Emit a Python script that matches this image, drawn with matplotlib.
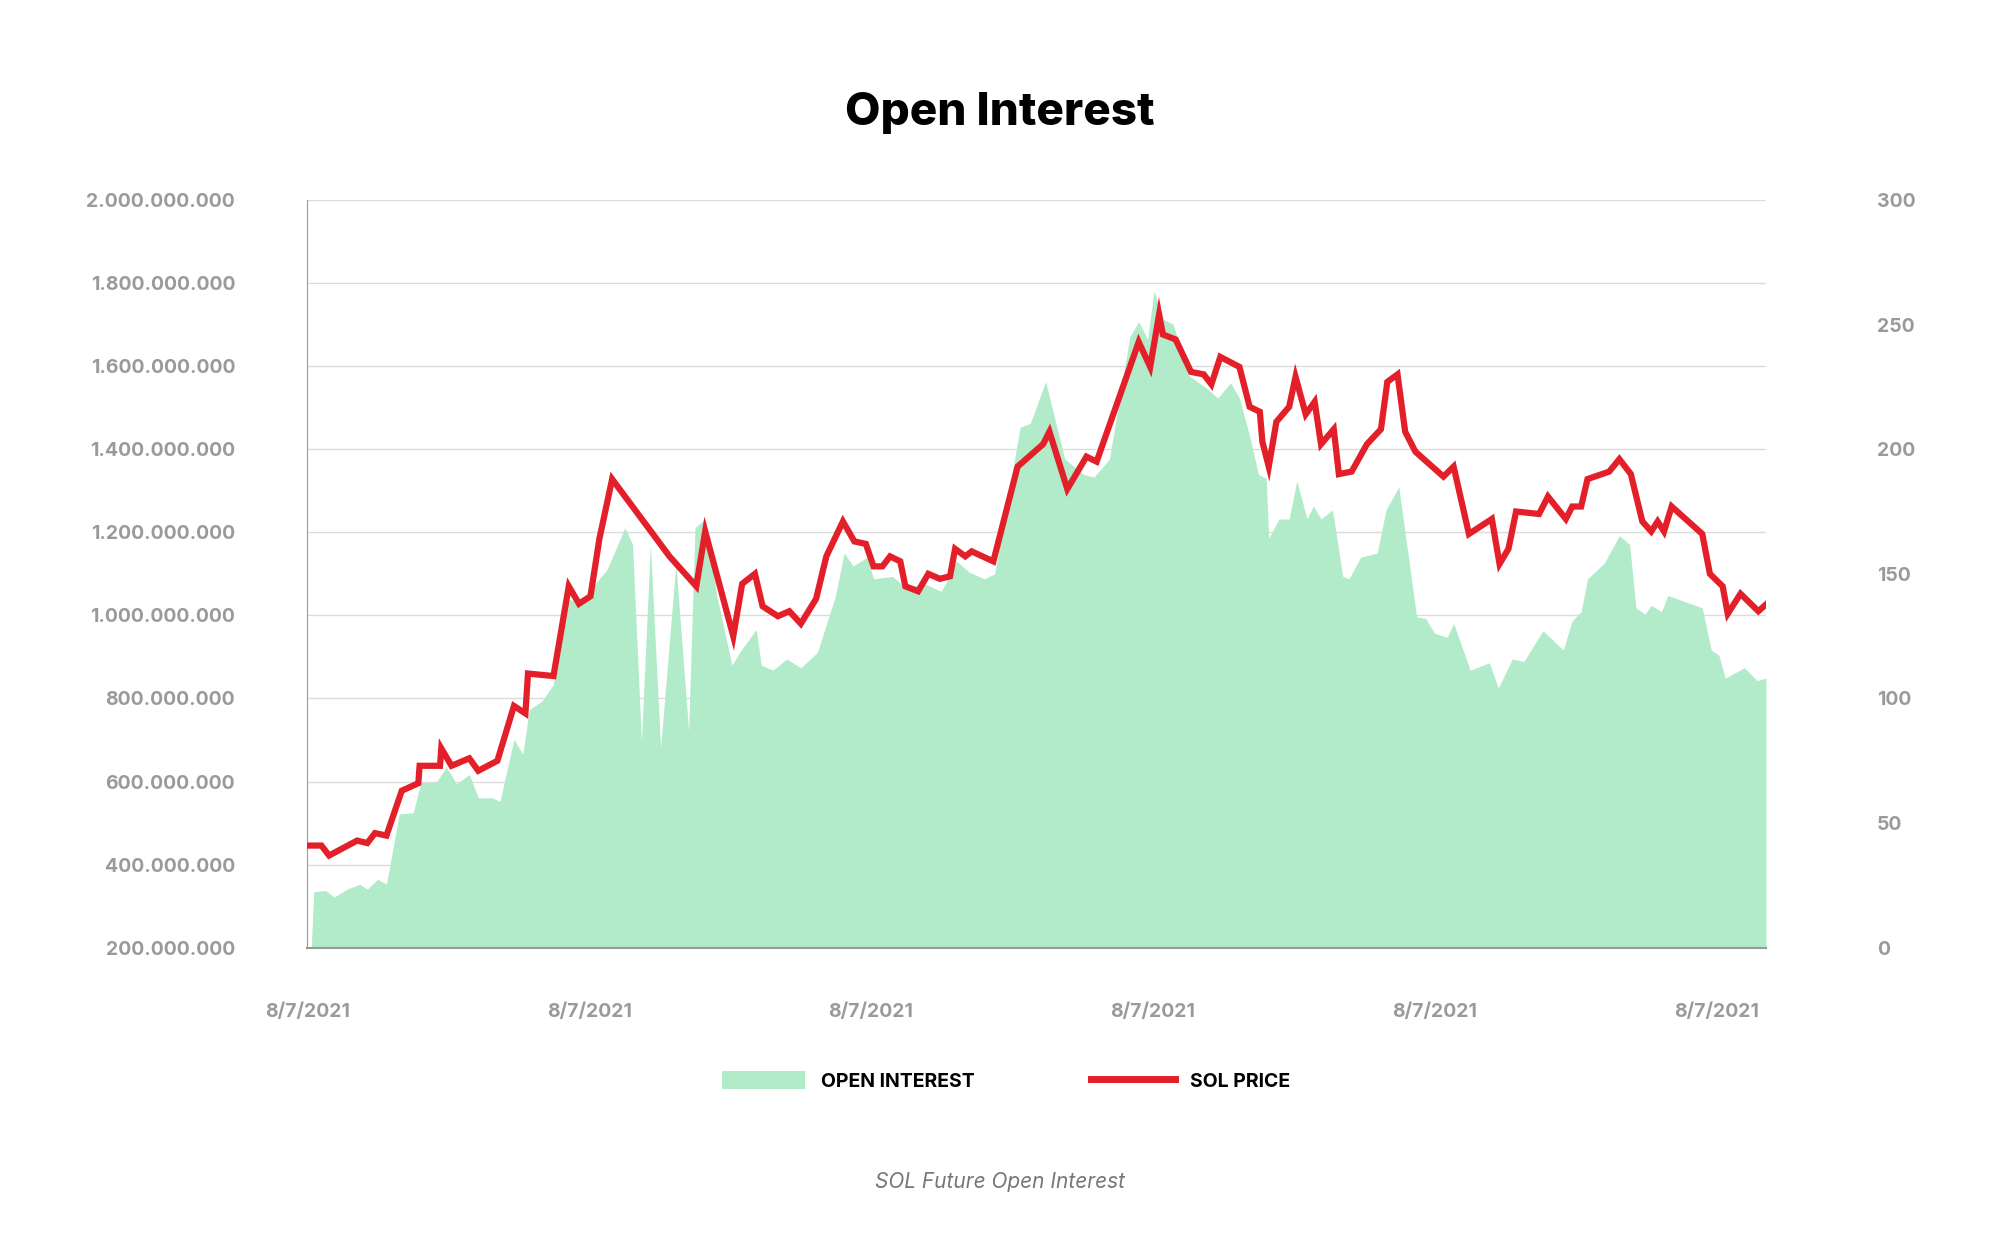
import matplotlib
matplotlib.use("Agg")
import matplotlib.pyplot as plt
from matplotlib.ticker import FuncFormatter
from matplotlib.lines import Line2D
from matplotlib.patches import Patch

# x positions measured in days (tick every 40 days)
price_px = [241,252,258,280,288,294,303,315,328,329,345,346,354,368,375,390,403,412,414,434,446,454,463,470,480,525,546,553,575,582,592,598,610,619,628,640,648,661,670,679,685,692,698,706,710,720,728,737,745,749,757,762,779,798,818,823,837,852,860,893,902,909,912,922,934,944,950,957,972,980,988,990,995,1001,1011,1016,1024,1031,1036,1046,1050,1060,1072,1083,1088,1096,1102,1110,1132,1140,1152,1170,1176,1183,1189,1207,1214,1228,1233,1240,1245,1262,1270,1279,1288,1295,1300,1305,1311,1335,1341,1351,1355,1365,1379,1390]
price = [41,41,37,43,42,46,45,63,66,73,73,80,73,76,71,75,97,94,110,109,145,138,141,164,188,157,145,167,125,146,150,137,133,135,130,140,157,171,163,162,153,153,157,155,145,143,150,148,149,160,157,159,155,193,202,207,184,197,195,243,233,254,246,244,231,230,226,237,233,217,215,203,193,211,217,229,214,219,202,208,190,191,202,208,227,230,207,199,189,193,166,172,154,160,175,174,181,172,177,177,188,191,196,190,171,167,171,167,177,166,150,145,134,142,135,140]

oi_px = [244,246,255,262,272,282,288,296,303,313,324,330,342,350,358,368,375,386,392,403,410,415,425,434,444,455,465,476,490,496,503,510,518,530,540,545,553,562,574,580,593,597,606,617,628,641,655,662,669,680,685,700,710,725,738,742,750,760,772,780,800,808,820,835,850,858,870,886,893,900,905,912,920,932,947,955,965,972,980,987,993,995,1003,1011,1017,1025,1030,1036,1045,1053,1058,1067,1080,1087,1097,1111,1118,1125,1135,1140,1153,1168,1175,1186,1195,1210,1226,1233,1240,1245,1258,1270,1278,1283,1290,1295,1303,1308,1335,1342,1348,1353,1368,1378,1385]
oi_m = [200,335,338,322,341,353,341,365,353,522,525,598,598,635,595,617,561,561,552,702,666,773,794,834,1039,1033,1070,1110,1211,1171,696,1171,681,1125,721,1211,1232,1048,880,911,966,880,868,895,874,911,1045,1150,1119,1140,1088,1094,1067,1076,1058,1079,1131,1104,1088,1100,1453,1462,1563,1376,1339,1333,1376,1670,1707,1664,1781,1713,1701,1578,1545,1523,1560,1523,1431,1339,1330,1186,1232,1232,1324,1232,1263,1232,1254,1094,1088,1140,1150,1254,1309,996,993,957,947,981,868,886,825,895,889,963,917,987,1009,1088,1125,1192,1171,1018,1003,1024,1009,1048,1018,917,904,849,874,843,849]

tick_labels = ["8/7/2021"] * 6

def to_day(p):
    return (p - 241) / 221 * 40

price_x = [to_day(p) for p in price_px]
oi_x = [to_day(p) for p in oi_px]
oi = [v * 1e6 for v in oi_m]

GREEN = "#b1ebc9"
RED = "#e3202a"
GRAY = "#9a9a9a"

fig = plt.figure(figsize=(20, 12.57), dpi=100)
ax = fig.add_axes([0.1537, 0.246, 0.883 - 0.1537, 0.841 - 0.246])
ax2 = ax.twinx()

ax.fill_between(oi_x, 0, oi, color=GREEN, lw=0, zorder=2)
ax2.plot(price_x, price, color=RED, lw=4.5, zorder=3, solid_joinstyle="miter")

ax.set_xlim(0, to_day(1385))
ax.set_ylim(2e8, 2e9)
ax2.set_ylim(0, 300)
ax.set_xticks([0, 40, 80, 120, 160, 200])
ax.set_xticklabels(tick_labels)
ax.set_yticks([2e8 * i for i in range(1, 11)])
ax.yaxis.set_major_formatter(FuncFormatter(lambda v, p: f"{int(v):,}".replace(",", ".")))
ax2.set_yticks([0, 50, 100, 150, 200, 250, 300])

ax.grid(axis="y", color="#dcdcdc", lw=1, zorder=0)
ax.set_axisbelow(True)
for a in (ax, ax2):
    for s in ("top", "right"):
        a.spines[s].set_visible(False)
    a.spines["left"].set_visible(a is ax)
    a.spines["bottom"].set_visible(a is ax)
ax.spines["left"].set_color("#999999")
ax.spines["bottom"].set_color("#999999")
ax.spines["bottom"].set_linewidth(1.5)

fnt = dict(family="Inter", weight="bold", size=14, color=GRAY)
ax.tick_params(axis="y", length=0, pad=52)
ax.tick_params(axis="x", length=0, pad=40)
ax2.tick_params(axis="y", length=0, pad=80)
for lab in ax.get_yticklabels() + ax.get_xticklabels() + ax2.get_yticklabels():
    lab.set_fontfamily("Inter"); lab.set_fontweight("bold"); lab.set_fontsize(14); lab.set_color(GRAY)

fig.text(0.5, 0.91, "Open Interest", ha="center", va="center", family="Inter",
         weight="heavy", size=33, color="black")
fig.text(0.5, 0.06, "SOL Future Open Interest", ha="center", va="center",
         family="Inter", style="italic", size=15, color="#777777")

handles = [Patch(facecolor=GREEN, edgecolor="none"), Line2D([], [], color=RED, lw=5)]
fig.legend(handles, ["OPEN INTEREST", "SOL PRICE"], loc="center", bbox_to_anchor=(0.503, 0.14),
           ncol=2, frameon=False, handlelength=4.3, handleheight=1.0, columnspacing=6,
           prop=dict(family="Inter", weight="bold", size=14))

fig.savefig("out.png", dpi=100, facecolor="white")
